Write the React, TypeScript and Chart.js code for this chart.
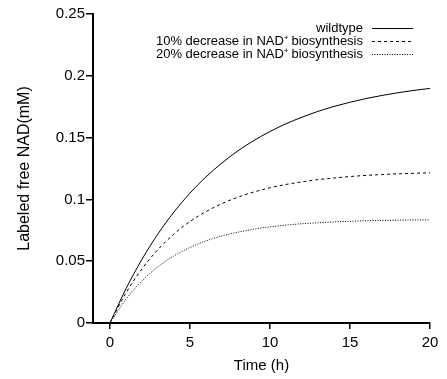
import React, { useEffect, useRef } from "react";
import { Chart, registerables } from "chart.js";

Chart.register(...registerables);

const timeHours = [0, 1, 2, 3, 4, 5, 6, 7, 8, 9, 10, 11, 12, 13, 14, 15, 16, 17, 18, 19, 20];
const wildtype = [0, 0.0277, 0.0515, 0.0721, 0.0898, 0.1051, 0.1182, 0.1295, 0.1393, 0.1477, 0.1549, 0.1612, 0.1665, 0.1712, 0.1752, 0.1786, 0.1816, 0.1841, 0.1863, 0.1882, 0.1898];
const decrease10 = [0, 0.0243, 0.0438, 0.0594, 0.072, 0.0821, 0.0901, 0.0966, 0.1018, 0.106, 0.1094, 0.1121, 0.1142, 0.116, 0.1173, 0.1185, 0.1194, 0.1201, 0.1207, 0.1211, 0.1215];
const decrease20 = [0, 0.0192, 0.0341, 0.0455, 0.0543, 0.0611, 0.0664, 0.0704, 0.0735, 0.0759, 0.0778, 0.0792, 0.0803, 0.0811, 0.0818, 0.0823, 0.0827, 0.083, 0.0832, 0.0834, 0.0835];
const seriesLabels = ["wildtype", "10% decrease in NAD\u207A biosynthesis", "20% decrease in NAD\u207A biosynthesis"];
const xTicks = [0, 5, 10, 15, 20];
const yTicks = [0, 0.05, 0.1, 0.15, 0.2, 0.25];

const FONT = "'Liberation Sans', Arial, sans-serif";

const legendPlugin = {
  id: "customLegend",
  afterDraw(chart: any) {
    const ctx = chart.ctx;
    ctx.save();
    ctx.font = `13px ${FONT}`;
    ctx.textAlign = "right";
    ctx.textBaseline = "middle";
    chart.data.datasets.forEach((ds: any, i: number) => {
      const y = 28 + i * 13;
      ctx.fillStyle = "#000";
      ctx.fillText(ds.label, 363, y);
      ctx.beginPath();
      ctx.strokeStyle = "#000";
      ctx.lineWidth = 1;
      ctx.setLineDash(ds.borderDash || []);
      ctx.moveTo(372, y + 0.5);
      ctx.lineTo(413, y + 0.5);
      ctx.stroke();
    });
    ctx.restore();
  },
};

export default function App() {
  const ref = useRef<HTMLCanvasElement>(null);
  useEffect(() => {
    const mk = (vals: number[]) => timeHours.map((t, i) => ({ x: t, y: vals[i] }));
    const dashes = [[], [3, 3], [1, 1.5]];
    const series = [wildtype, decrease10, decrease20];
    const chart = new Chart(ref.current!, {
      type: "line",
      data: {
        datasets: series.map((s, i) => ({
          label: seriesLabels[i],
          data: mk(s),
          borderColor: "#000",
          borderWidth: 1,
          borderDash: dashes[i],
          pointRadius: 0,
          cubicInterpolationMode: "monotone" as const,
          fill: false,
        })),
      },
      options: {
        animation: false,
        responsive: false,
        maintainAspectRatio: false,
        layout: { padding: { top: 14, right: 17, left: 0, bottom: 0 } },
        plugins: { legend: { display: false }, tooltip: { enabled: false } },
        scales: {
          x: {
            type: "linear",
            min: -1.06,
            max: 20,
            afterBuildTicks: (s: any) => { s.ticks = xTicks.map((v) => ({ value: v })); },
            afterFit: (s: any) => { s.height = 56; },
            border: { display: true, color: "#000", width: 2 },
            grid: { display: true, drawOnChartArea: false, drawTicks: true, tickLength: 6, color: "#000", lineWidth: 1.5 },
            ticks: { color: "#000", font: { family: FONT, size: 15 }, padding: 5, maxRotation: 0 },
            title: { display: true, text: "Time (h)", color: "#000", font: { family: FONT, size: 15 }, padding: { top: 2, bottom: 4 } },
          },
          y: {
            type: "linear",
            min: 0,
            max: 0.25,
            afterBuildTicks: (s: any) => { s.ticks = yTicks.map((v) => ({ value: v })); },
            afterFit: (s: any) => { s.width = 93; },
            border: { display: true, color: "#000", width: 2 },
            grid: { display: true, drawOnChartArea: false, drawTicks: true, tickLength: 7, color: "#000", lineWidth: 1.5 },
            ticks: { color: "#000", font: { family: FONT, size: 15 }, padding: 1, callback: (v: any) => String(Math.round(Number(v) * 100) / 100) },
            title: { display: true, text: "Labeled free NAD(mM)", color: "#000", font: { family: FONT, size: 16 }, padding: { top: 15, bottom: 0 } },
          },
        },
      },
      plugins: [legendPlugin],
    });
    return () => chart.destroy();
  }, []);
  return (
    <div style={{ position: "fixed", left: 0, top: 0, width: 447, height: 379, background: "#fff" }}>
      <canvas ref={ref} width={447} height={379} style={{ display: "block", width: 447, height: 379 }} />
    </div>
  );
}
